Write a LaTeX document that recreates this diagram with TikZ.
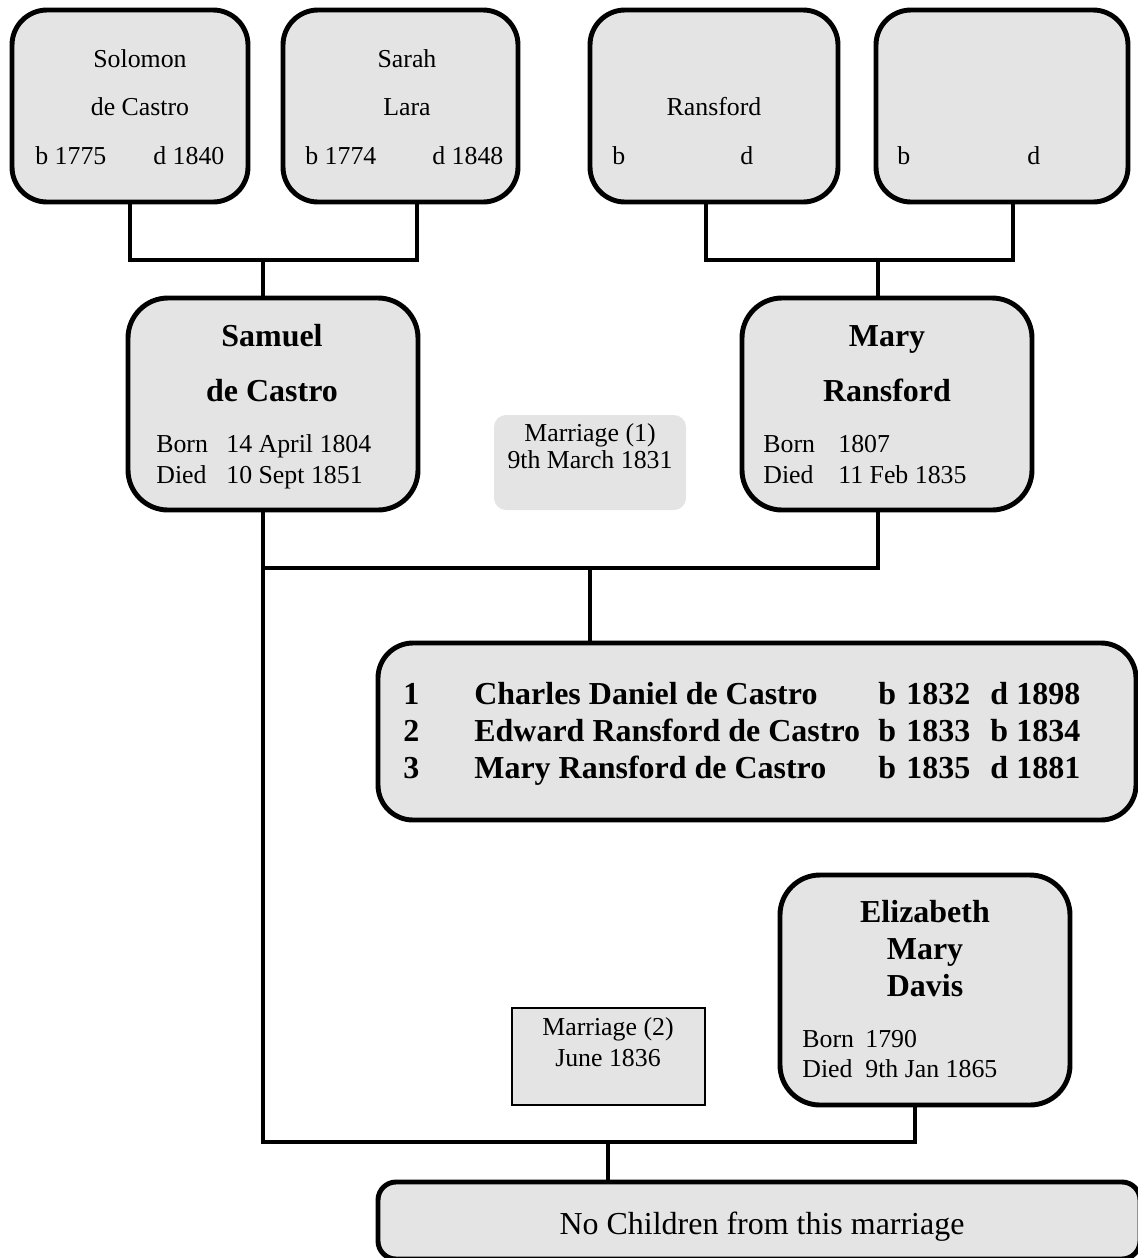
\documentclass[tikz,border=0pt]{standalone}
\usepackage{fontspec}
\setmainfont{Liberation Serif}
\usetikzlibrary{fit}
\definecolor{boxfill}{RGB}{228,228,228}
\tikzset{
  person/.style={draw=black, line width=2.8pt, fill=boxfill, rounded corners=0.7cm, inner sep=0pt},
  link/.style={draw=black, line width=2.8pt, line join=miter},
  note/.style={fill=boxfill, inner sep=0pt},
  small/.style={font=\fontsize{14.7}{17}\selectfont, inner sep=0pt, text height=0.7em, text depth=0.2em, yshift=-0.1cm},
  large/.style={font=\bfseries\fontsize{18.2}{21}\selectfont, inner sep=0pt, text height=0.7em, text depth=0.2em, yshift=-0.11cm},
  plain/.style={font=\fontsize{18.2}{21}\selectfont, inner sep=0pt, text height=0.7em, text depth=0.2em, yshift=-0.11cm},
}
\begin{document}
\begin{tikzpicture}[x=0.02cm, y=-0.02cm]
\useasboundingbox (0,0) rectangle (1138,1258);
\clip (0,0) rectangle (1138,1258);

% ---- grandparents ----
\node[person, fit={(12,10) (248,202)}] (sol) {};
\node[person, fit={(283,10) (518,202)}] (sar) {};
\node[person, fit={(590,10) (838,202)}] (ran) {};
\node[person, fit={(876,10) (1128,202)}] (blk) {};

\node[small] (solA) at (140,58) {Solomon};
\node[small] (solB) at (140,106) {de Castro};
\node[small, anchor=west] (solC) at (35,155) {b 1775};
\node[small, anchor=west] (solD) at (153,155) {d 1840};

\node[small] (sarA) at (407,58) {Sarah};
\node[small] (sarB) at (407,106) {Lara};
\node[small, anchor=west] (sarC) at (305,155) {b 1774};
\node[small, anchor=west] (sarD) at (432,155) {d 1848};

\node[small] (ranB) at (714,106) {Ransford};
\node[small, anchor=west] (ranC) at (612,155) {b};
\node[small, anchor=west] (ranD) at (740,155) {d};

\node[small, anchor=west] (blkC) at (897,155) {b};
\node[small, anchor=west] (blkD) at (1027,155) {d};

% ---- parents ----
\node[person, rounded corners=0.8cm, fit={(128,298) (418,510)}] (sam) {};
\node[large] (samA) at (272,337) {Samuel};
\node[large] (samB) at (272,392) {de Castro};
\node[small, anchor=west] (samC) at (156,443) {Born};
\node[small, anchor=west] (samD) at (226,443) {14 April 1804};
\node[small, anchor=west] (samE) at (156,474) {Died};
\node[small, anchor=west] (samF) at (226,474) {10 Sept 1851};

\node[person, rounded corners=0.8cm, fit={(742,298) (1032,510)}] (mar) {};
\node[large] (marA) at (887,337) {Mary};
\node[large] (marB) at (887,392) {Ransford};
\node[small, anchor=west] (marC) at (763,443) {Born};
\node[small, anchor=west] (marD) at (838,443) {1807};
\node[small, anchor=west] (marE) at (763,474) {Died};
\node[small, anchor=west] (marF) at (838,474) {11 Feb 1835};

% ---- first marriage ----
\node[note, rounded corners=0.24cm, fit={(494,415) (686,510)}] (m1) {};
\node[small] (m1A) at (590,432) {Marriage (1)};
\node[small] (m1B) at (590,459) {9th March 1831};

\node[person, fit={(378,643) (1136,820)}] (kids) {};
\node[large, anchor=west] (k1n) at (403,695) {1};
\node[large, anchor=west] (k1a) at (474,695) {Charles Daniel de Castro};
\node[large, anchor=west] (k1b) at (878,695) {b};
\node[large, anchor=west] (k1c) at (906,695) {1832};
\node[large, anchor=west] (k1d) at (990,695) {d};
\node[large, anchor=west] (k1e) at (1016,695) {1898};
\node[large, anchor=west] (k2n) at (403,732) {2};
\node[large, anchor=west] (k2a) at (474,732) {Edward Ransford de Castro};
\node[large, anchor=west] (k2b) at (878,732) {b};
\node[large, anchor=west] (k2c) at (906,732) {1833};
\node[large, anchor=west] (k2d) at (990,732) {b};
\node[large, anchor=west] (k2e) at (1016,732) {1834};
\node[large, anchor=west] (k3n) at (403,769) {3};
\node[large, anchor=west] (k3a) at (474,769) {Mary Ransford de Castro};
\node[large, anchor=west] (k3b) at (878,769) {b};
\node[large, anchor=west] (k3c) at (906,769) {1835};
\node[large, anchor=west] (k3d) at (990,769) {d};
\node[large, anchor=west] (k3e) at (1016,769) {1881};

% ---- second marriage ----
\node[person, rounded corners=0.8cm, fit={(780,875) (1070,1105)}] (eli) {};
\node[large] (eliA) at (925,913) {Elizabeth};
\node[large] (eliB) at (925,950) {Mary};
\node[large] (eliC) at (925,987) {Davis};
\node[small, anchor=west] (eliD) at (802,1038) {Born};
\node[small, anchor=west] (eliE) at (865,1038) {1790};
\node[small, anchor=west] (eliF) at (802,1068) {Died};
\node[small, anchor=west] (eliG) at (865,1068) {9th Jan 1865};

\node[note, draw=black, line width=0.6pt, fit={(512,1008) (705,1105)}] (m2) {};
\node[small] (m2A) at (608,1026) {Marriage (2)};
\node[small] (m2B) at (608,1057) {June 1836};

\node[person, rounded corners=0.36cm, fit={(378,1182) (1140,1259)}] (none) {};
\node[plain] (noneA) at (762,1225) {No Children from this marriage};

% ---- connectors ----
\coordinate (pA) at (263,260);
\coordinate (pB) at (878,260);
\coordinate (sarb) at (417,202);
\coordinate (ranb) at (706,202);
\coordinate (blkb) at (1013,202);
\coordinate (pC) at (590,568);
\coordinate (pE) at (915,1142);
\coordinate (pF) at (608,1142);

\draw[link] (sol.south) -- (sol.south |- pA) -- (sarb |- pA) -- (sarb |- sar.south);
\draw[link] (pA) -- (pA |- sam.north);
\draw[link] (ranb |- ran.south) -- (ranb |- pB) -- (blkb |- pB) -- (blkb |- blk.south);
\draw[link] (pB) -- (pB |- mar.north);

\draw[link] (pA |- sam.south) -- (pA |- pE) -- (pE) -- (pE |- eli.south);
\draw[link] (pA |- pC) -- (pB |- pC) -- (pB |- mar.south);
\draw[link] (pC) -- (pC |- kids.north);
\draw[link] (pF) -- (pF |- none.north);
\end{tikzpicture}
\end{document}
